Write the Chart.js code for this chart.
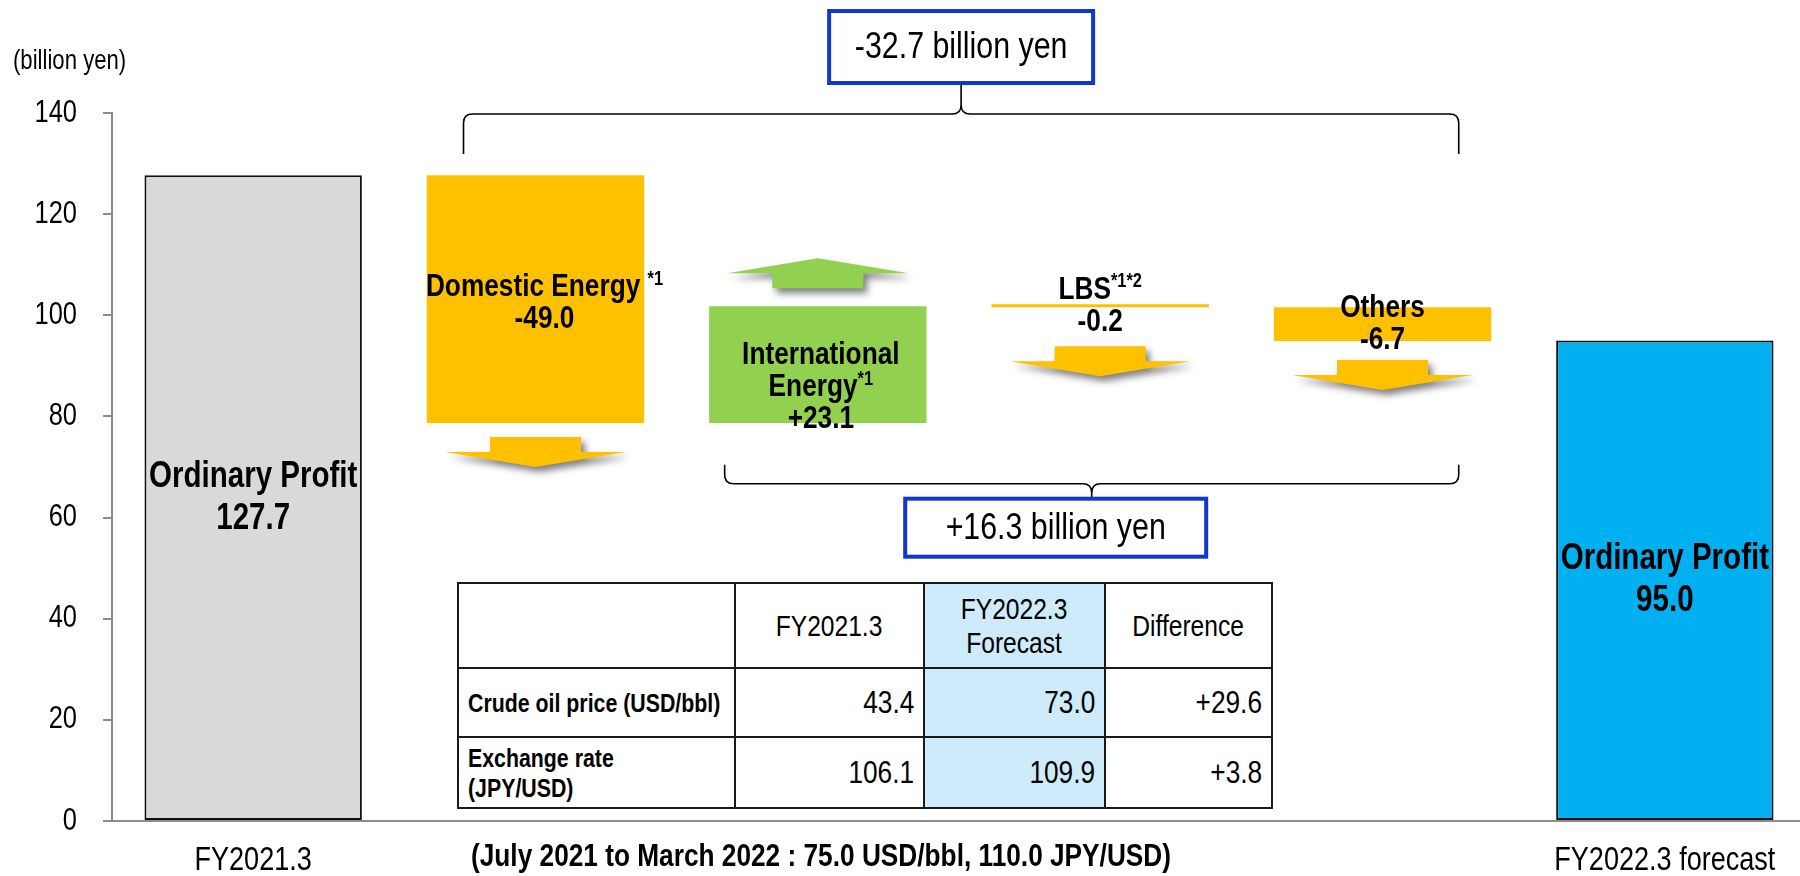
<!DOCTYPE html>
<html>
<head>
<meta charset="utf-8">
<script src="https://cdn.jsdelivr.net/npm/chart.js@4/dist/chart.umd.min.js"></script>
<style>
  html, body { margin: 0; padding: 0; background: #fff; overflow: hidden; }
  body { font-family: "Liberation Sans", Arial, sans-serif; color: #000; }
  #wrap { position: relative; width: 1800px; height: 876px; overflow: hidden; }
  #chart { position: absolute; left: 0; top: 0; }
  .n { display: inline-block; transform: scaleX(0.82); white-space: nowrap; }
  .l { transform-origin: left center; }
  .c { transform-origin: center center; }
  .r { transform-origin: right center; }
  #unit { position: absolute; left: 13px; top: 43px; font-size: 27px; line-height: 34px; }
  #foot { position: absolute; left: 471px; top: 835px; font-size: 32px; line-height: 40px; font-weight: bold; }
  #rates { position: absolute; left: 457px; top: 582px; width: 814px; border-collapse: collapse; table-layout: fixed; background: #fff; }
  #rates td { border: 2px solid #1a1a1a; padding: 0 9px; box-sizing: border-box; white-space: nowrap; }
  #rates tr.head td { height: 85px; font-size: 30px; line-height: 34px; text-align: center; }
  #rates td.name { font-weight: bold; font-size: 26px; line-height: 30px; text-align: left; }
  #rates td.num { font-size: 32px; text-align: right; }
  #rates .fc { background: #cdebfb; }
</style>
</head>
<body>
<div id="wrap">
  <canvas id="chart" width="1806" height="876"></canvas>
  <div id="unit"><span class="n l">(billion yen)</span></div>
  <table id="rates"></table>
  <div id="foot"></div>
</div>
<script>
// values
const categories = ["FY2021.3", "Domestic Energy", "International Energy", "LBS", "Others", "FY2022.3 forecast"];
const axisLabels = ["FY2021.3", "", "", "", "", "FY2022.3 forecast"];
const startProfit = 127.7;
const changes = [-49.0, 23.1, -0.2, -6.7];
const endProfit = 95.0;
const notes = ["", "*1", "*1", "*1*2", "", ""];
const totalChange = -32.7;
const overseasChange = 16.3;

const tableHead = ["", "FY2021.3", "FY2022.3<br>Forecast", "Difference"];
const tableRows = ["Crude oil price (USD/bbl)", "Exchange rate<br>(JPY/USD)"];
const rates2021 = [43.4, 106.1];
const rates2022 = [73.0, 109.9];
const rateDiff = [29.6, 3.8];
const footNote = "(July 2021 to March 2022 : 75.0 USD/bbl, 110.0 JPY/USD)";

// no narrow face installed: squeeze Liberation Sans like Arial Narrow
const FONT = '"Liberation Sans", Arial, sans-serif';
const SX = 0.82;
const ORANGE = "#ffc000";
const GREEN = "#92d050";

const signed = v => (v > 0 ? "+" : "") + v.toFixed(1);

// floating ranges for the waterfall
let level = startProfit;
const ranges = [[0, startProfit]];
changes.forEach(d => {
    ranges.push([level, level + d]);
    level += d;
});
ranges.push([0, endProfit]);

const barColors = ["#d9d9d9", ORANGE, GREEN, ORANGE, ORANGE, "#00b0f0"];

// table
const cols = [277, 189, 181, 167];
const span = (t, a) => `<span class="n ${a}">${t}</span>`;
let html = "<colgroup>" + cols.map(w => `<col style="width:${w}px">`).join("") + "</colgroup>";
html += '<tr class="head">' + tableHead.map((t, i) => `<td${i === 2 ? ' class="fc"' : ""}>${span(t, "c")}</td>`).join("") + "</tr>";
tableRows.forEach((name, i) => {
    html += `<tr style="height:${i === 0 ? 69 : 71}px"><td class="name">${span(name, "l")}</td>` +
        `<td class="num">${span(rates2021[i].toFixed(1), "r")}</td>` +
        `<td class="num fc">${span(rates2022[i].toFixed(1), "r")}</td>` +
        `<td class="num">${span(signed(rateDiff[i]), "r")}</td></tr>`;
});
document.getElementById("rates").innerHTML = html;
document.getElementById("foot").innerHTML = span(footNote, "l");

const fontOf = (size, bold) => `${bold ? "bold " : ""}${size}px ${FONT}`;

const say = (ctx, text, x, y, size, bold, align) => {
    ctx.save();
    ctx.font = fontOf(size, bold);
    ctx.fillStyle = "#000";
    ctx.textAlign = align || "center";
    ctx.textBaseline = "middle";
    ctx.translate(x, y);
    ctx.scale(SX, 1);
    ctx.fillText(text, 0, 0);
    ctx.restore();
};

const widthOf = (ctx, text, size, bold) => {
    ctx.save();
    ctx.font = fontOf(size, bold);
    const w = ctx.measureText(text).width * SX;
    ctx.restore();
    return w;
};

// a line of bold text with an optional superscript note
const drawParts = (ctx, parts, cx, cy, size) => {
    const supSize = Math.round(size * 0.62);
    const w0 = widthOf(ctx, parts[0], size, true);
    const w1 = parts[1] ? widthOf(ctx, parts[1], supSize, true) : 0;
    const x = cx - (w0 + w1) / 2;
    say(ctx, parts[0], x, cy, size, true, "left");
    if (parts[1]) say(ctx, parts[1], x + w0, cy - size * 0.25, supSize, true, "left");
};

const drawArrow = (ctx, cx, y0, dir, color) => {
    const sw = 91, hw = 181, sh = 15, hh = 15;
    ctx.save();
    ctx.shadowColor = "rgba(0,0,0,0.5)";
    ctx.shadowBlur = 7;
    ctx.shadowOffsetX = 4;
    ctx.shadowOffsetY = 5;
    ctx.fillStyle = color;
    ctx.beginPath();
    ctx.moveTo(cx - sw / 2, y0);
    ctx.lineTo(cx + sw / 2, y0);
    ctx.lineTo(cx + sw / 2, y0 + dir * sh);
    ctx.lineTo(cx + hw / 2, y0 + dir * sh);
    ctx.lineTo(cx, y0 + dir * (sh + hh));
    ctx.lineTo(cx - hw / 2, y0 + dir * sh);
    ctx.lineTo(cx - sw / 2, y0 + dir * sh);
    ctx.closePath();
    ctx.fill();
    ctx.restore();
};

const drawBrace = (ctx, x1, x2, yLine, yEnd, yTip) => {
    const xm = (x1 + x2) / 2;
    const s = Math.sign(yEnd - yLine);
    const r = 9;
    ctx.save();
    ctx.strokeStyle = "#000";
    ctx.lineWidth = 1.6;
    ctx.beginPath();
    ctx.moveTo(x1, yEnd);
    ctx.lineTo(x1, yLine + s * r);
    ctx.quadraticCurveTo(x1, yLine, x1 + r, yLine);
    ctx.lineTo(xm - r, yLine);
    ctx.quadraticCurveTo(xm, yLine, xm, yLine - s * r);
    ctx.lineTo(xm, yTip);
    ctx.moveTo(xm, yLine - s * r);
    ctx.quadraticCurveTo(xm, yLine, xm + r, yLine);
    ctx.lineTo(x2 - r, yLine);
    ctx.quadraticCurveTo(x2, yLine, x2, yLine + s * r);
    ctx.lineTo(x2, yEnd);
    ctx.stroke();
    ctx.restore();
};

const drawBox = (ctx, cx, top, w, h, text) => {
    ctx.save();
    ctx.fillStyle = "#fff";
    ctx.fillRect(cx - w / 2, top, w, h);
    ctx.strokeStyle = "#1238c8";
    ctx.lineWidth = 4;
    ctx.strokeRect(cx - w / 2, top, w, h);
    ctx.restore();
    say(ctx, text, cx, top + h / 2 + 1, 37, false, "center");
};

const decorations = {
    id: "decorations",
    afterDatasetsDraw(chart) {
        const {ctx, chartArea, scales: {x, y}} = chart;
        const bars = chart.getDatasetMeta(0).data;
        const values = [startProfit, ...changes, endProfit];

        // axis labels, squeezed like the rest of the text
        y.ticks.forEach(t => say(ctx, String(t.value), chartArea.left - 35, y.getPixelForValue(t.value), 31, false, "right"));
        axisLabels.forEach((t, i) => { if (t) say(ctx, t, x.getPixelForValue(i), chartArea.bottom + 40, 33, false, "center"); });

        // arrows next to the change bars
        const arrowGap = [0, 14, 18, 39, 19, 0];
        bars.forEach((bar, i) => {
            if (i === 0 || i === bars.length - 1) return;
            const top = Math.min(bar.y, bar.base), bottom = Math.max(bar.y, bar.base);
            if (values[i] > 0) drawArrow(ctx, bar.x, top - arrowGap[i], -1, GREEN);
            else drawArrow(ctx, bar.x, bottom + arrowGap[i], 1, ORANGE);
        });

        // labels inside the bars
        const shiftY = [0, 4, 23, 0, 0, 0];
        const shiftX = [0, 9, 3, 0, 0, 0];
        bars.forEach((bar, i) => {
            const mid = (bar.y + bar.base) / 2 + shiftY[i];
            const first = i === 0 || i === bars.length - 1;
            let lines;
            if (first) lines = [["Ordinary Profit"], [values[i].toFixed(1)]];
            else if (i === 1) lines = [[categories[i] + " ", notes[i]], [signed(values[i])]];
            else if (i === 2) lines = [["International"], ["Energy", notes[i]], [signed(values[i])]];
            else lines = [[categories[i], notes[i]], [signed(values[i])]];
            const lh = first ? 42 : 32;
            const size = first ? 36 : 32;
            lines.forEach((parts, k) => {
                drawParts(ctx, parts, bar.x + shiftX[i], mid + (k - (lines.length - 1) / 2) * lh, size);
            });
        });

        // brace over all changes
        const tLine = y.getPixelForValue(139.8);
        const tx1 = x.getPixelForValue(0.745), tx2 = x.getPixelForValue(4.27);
        drawBrace(ctx, tx1, tx2, tLine, tLine + 40, tLine - 31);
        drawBox(ctx, (tx1 + tx2) / 2, tLine - 31 - 72, 264, 72, signed(totalChange) + " billion yen");

        // brace under the overseas part, its box sits a little left of the tip
        const bLine = y.getPixelForValue(66.7);
        const bx1 = x.getPixelForValue(1.67), bx2 = x.getPixelForValue(4.27);
        drawBrace(ctx, bx1, bx2, bLine, bLine - 19, bLine + 15);
        drawBox(ctx, (bx1 + bx2) / 2 - 36, bLine + 15, 301, 58, signed(overseasChange) + " billion yen");
    }
};

new Chart(document.getElementById("chart"), {
    type: "bar",
    data: {
        labels: axisLabels,
        datasets: [{
            data: ranges,
            backgroundColor: barColors,
            borderColor: "#111",
            borderWidth: [2, 0, 0, 0, 0, 2],
            borderSkipped: false,
            minBarLength: 3,
            categoryPercentage: 1,
            barPercentage: 0.77
        }]
    },
    options: {
        responsive: false,
        animation: false,
        events: [],
        layout: {padding: {top: 113, left: 0, right: 0, bottom: 0}},
        plugins: {legend: {display: false}, tooltip: {enabled: false}},
        scales: {
            x: {
                grid: {display: false, drawTicks: false},
                border: {display: true, color: "#8c8c8c", width: 2},
                ticks: {display: false},
                afterFit: s => { s.height = 876 - 821; }
            },
            y: {
                min: 0, max: 140,
                grid: {drawOnChartArea: false, drawTicks: true, tickLength: 9, color: "#8c8c8c", lineWidth: 2},
                border: {display: true, color: "#8c8c8c", width: 2},
                ticks: {display: false, stepSize: 20},
                afterFit: s => { s.width = 112; }
            }
        }
    },
    plugins: [decorations]
});
</script>
</body>
</html>
